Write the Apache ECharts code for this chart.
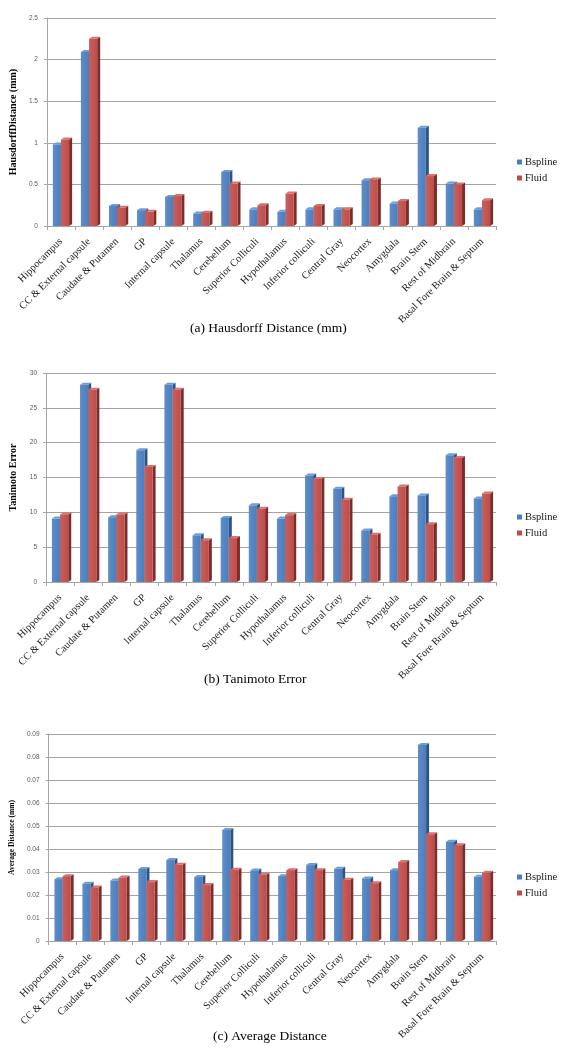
<!DOCTYPE html>
<html>
<head>
<meta charset="utf-8">
<script src="https://cdn.jsdelivr.net/npm/echarts@6/dist/echarts.min.js"></script>
<style>
html,body{margin:0;padding:0;background:#fff;}
#chart{width:569px;height:1050px;}
</style>
</head>
<body>
<div id="chart"></div>
<script>
// ---------- data ----------
var categories = ['Hippocampus','CC & External capsule','Caudate & Putamen','GP','Internal capsule','Thalamus','Cerebellum','Superior Colliculi','Hypothalamus','Inferior colliculi','Central Gray','Neocortex','Amygdala','Brain Stem','Rest of Midbrain','Basal Fore Brain & Septum'];
var seriesNames = ['Bspline', 'Fluid'];

var hausdorffBspline = [0.98, 2.09, 0.24, 0.19, 0.35, 0.15, 0.65, 0.20, 0.17, 0.20, 0.20, 0.55, 0.27, 1.18, 0.51, 0.20];
var hausdorffFluid   = [1.04, 2.25, 0.22, 0.17, 0.36, 0.16, 0.51, 0.25, 0.39, 0.24, 0.20, 0.56, 0.30, 0.60, 0.50, 0.31];

var tanimotoBspline = [9.1, 28.3, 9.3, 18.9, 28.3, 6.7, 9.2, 11.0, 9.1, 15.3, 13.4, 7.4, 12.3, 12.4, 18.2, 12.0];
var tanimotoFluid   = [9.7, 27.6, 9.7, 16.5, 27.6, 6.0, 6.3, 10.5, 9.6, 14.8, 11.8, 6.8, 13.7, 8.3, 17.8, 12.7];

var avgBspline = [0.0269, 0.0249, 0.0263, 0.0313, 0.0352, 0.0278, 0.0483, 0.0307, 0.0282, 0.0330, 0.0314, 0.0272, 0.0308, 0.0852, 0.0432, 0.0279];
var avgFluid   = [0.0282, 0.0233, 0.0276, 0.0256, 0.0331, 0.0243, 0.0310, 0.0288, 0.0308, 0.0308, 0.0266, 0.0251, 0.0343, 0.0464, 0.0416, 0.0297];

var hausdorffTicks = [0, 0.5, 1, 1.5, 2, 2.5];
var tanimotoTicks  = [0, 5, 10, 15, 20, 25, 30];
var avgTicks       = [0, 0.01, 0.02, 0.03, 0.04, 0.05, 0.06, 0.07, 0.08, 0.09];

var yNames   = ['HausdorffDistance (mm)', 'Tanimoto Error', 'Average Distance (mm)'];
var captions = ['(a) Hausdorff Distance (mm)', '(b) Tanimoto Error', '(c) Average Distance'];

// ---------- styling / layout ----------
var panels = [
  {b: hausdorffBspline, f: hausdorffFluid, ticks: hausdorffTicks, top: 18, height: 208, nameSize: 10, legendTop: 156, capLeft: 190, capTop: 321},
  {b: tanimotoBspline, f: tanimotoFluid, ticks: tanimotoTicks, top: 373, height: 209, nameSize: 10, legendTop: 511, capLeft: 204, capTop: 672},
  {b: avgBspline, f: avgFluid, ticks: avgTicks, top: 734, height: 207, nameSize: 7.5, legendTop: 871, capLeft: 213, capTop: 1029}
];

var colors = {
  Bspline: {front: '#4A7EBF', side: '#2D5385', top: '#6F9BD6', legend: '#4A7EBF'},
  Fluid:   {front: '#BF4C49', side: '#7C2D2B', top: '#D7726F', legend: '#BF4C49'}
};

function make3D(slot, c) {
  return function (params, api) {
    var idx = api.value(0), v = api.value(1);
    var p = api.coord([idx, v]);
    var b = api.coord([idx, 0]);
    var cw = api.size([1, 0])[0];
    var w = cw * 0.29;
    var dx = 3, dy = 2;
    var xl = p[0] - w + slot * w;
    var xr = xl + w;
    return {
      type: 'group',
      children: [
        {type: 'polygon', shape: {points: [[xr, p[1]], [xr + dx, p[1] - dy], [xr + dx, b[1] - dy], [xr, b[1]]]}, style: {fill: c.side}},
        {type: 'polygon', shape: {points: [[xl, p[1]], [xl + dx, p[1] - dy], [xr + dx, p[1] - dy], [xr, p[1]]]}, style: {fill: c.top}},
        {type: 'rect', shape: {x: xl, y: p[1], width: w, height: b[1] - p[1]},
          style: {fill: new echarts.graphic.LinearGradient(0, 0, 1, 0, [
            {offset: 0, color: echarts.color.lift(c.front, 0.12)},
            {offset: 1, color: c.front}])}}
      ]
    };
  };
}

var option = {
  backgroundColor: '#fff',
  animation: false,
  title: [], legend: [], grid: [], xAxis: [], yAxis: [], series: []
};

panels.forEach(function (pn, k) {
  option.grid.push({left: 46, width: 450, top: pn.top, height: pn.height});
  option.xAxis.push({
    type: 'category', gridIndex: k, data: categories,
    axisLine: {lineStyle: {color: '#a6a6a6'}},
    axisTick: {show: true, length: 4, lineStyle: {color: '#a6a6a6'}},
    axisLabel: {interval: 0, rotate: 45, margin: 14, fontFamily: 'Liberation Serif', fontSize: 10.4, color: '#1a1a1a'},
    splitLine: {show: false}
  });
  var t = pn.ticks;
  option.yAxis.push({
    type: 'value', gridIndex: k,
    min: t[0], max: t[t.length - 1], interval: t[1] - t[0],
    name: yNames[k], nameLocation: 'middle', nameGap: 23,
    nameTextStyle: {fontFamily: 'Liberation Serif', fontWeight: 'bold', fontSize: pn.nameSize, color: '#000'},
    axisLine: {show: true, lineStyle: {color: '#a6a6a6'}},
    axisTick: {show: true, length: 3, lineStyle: {color: '#a6a6a6'}},
    axisLabel: {fontFamily: 'Liberation Sans', fontSize: 6.5, color: '#595959', margin: 9, padding: [4, 0, 0, 0]},
    splitLine: {show: true, lineStyle: {color: '#a3a3a3', width: 1}}
  });
  option.legend.push({
    orient: 'vertical', left: 517, top: pn.legendTop, padding: 0,
    itemWidth: 5, itemHeight: 5, itemGap: 4,
    icon: 'rect',
    textStyle: {fontFamily: 'Liberation Serif', fontSize: 10.5, color: '#111', lineHeight: 12, padding: [0, 0, 0, -2]},
    data: seriesNames.map(function (n) { return {name: n, itemStyle: {color: colors[n].legend}}; })
  });
  option.title.push({
    text: captions[k], left: pn.capLeft, top: pn.capTop, padding: 0,
    textStyle: {fontFamily: 'Liberation Serif', fontWeight: 'normal', fontSize: 13.5, color: '#000'}
  });
  [pn.b, pn.f].forEach(function (arr, s) {
    var nm = seriesNames[s];
    option.series.push({
      type: 'custom', name: nm, xAxisIndex: k, yAxisIndex: k,
      itemStyle: {color: colors[nm].legend},
      renderItem: make3D(s, colors[nm]),
      encode: {x: 0, y: 1},
      data: arr.map(function (v, i) { return [i, v]; })
    });
  });
});

var chart = echarts.init(document.getElementById('chart'), null, {renderer: 'canvas'});
chart.setOption(option);
</script>
</body>
</html>
